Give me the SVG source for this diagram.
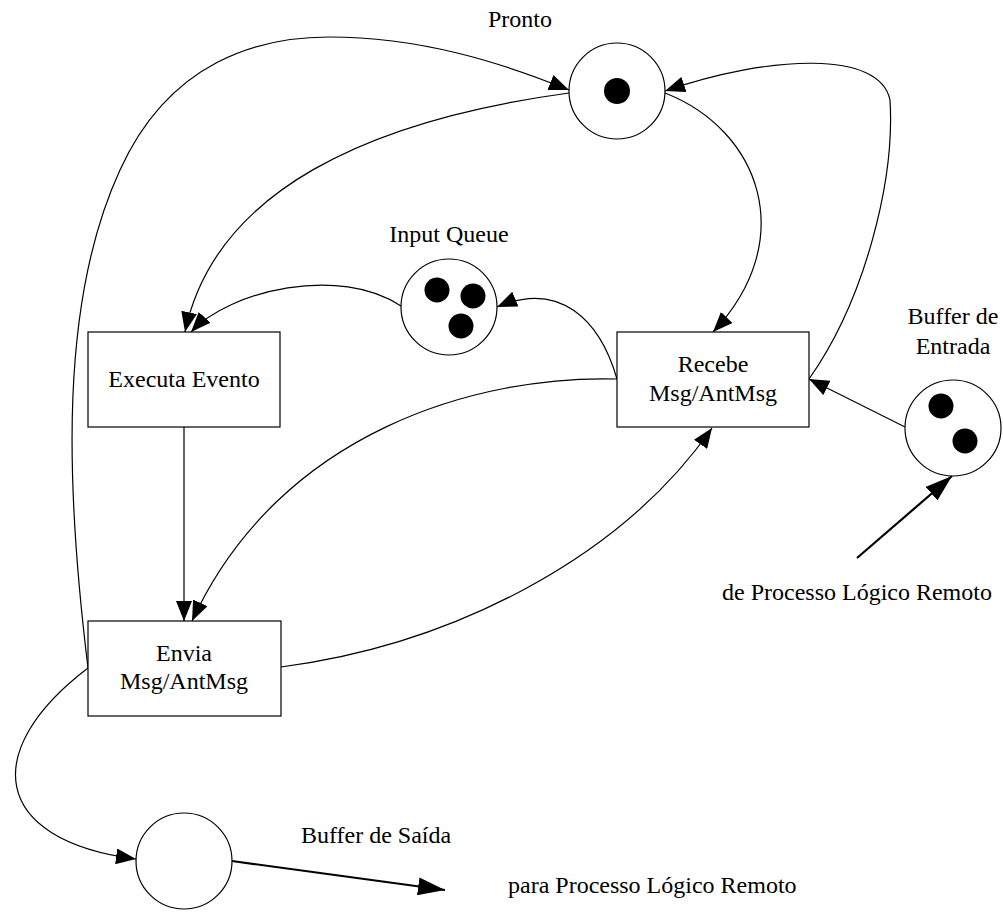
<svg xmlns="http://www.w3.org/2000/svg" width="1003" height="924" viewBox="0 0 1003 924">
  <style>
    .place { fill: #ffffff; stroke: #000000; stroke-width: 1.2; }
    .box { fill: #ffffff; stroke: #000000; stroke-width: 1.2; }
    .token { fill: #000000; stroke: none; }
    .lbl { font-family: "Liberation Serif", "Times New Roman", serif; font-size: 24px; fill: #000000; }
    .mid { text-anchor: middle; }
    .arc { fill: none; stroke: #000000; stroke-width: 1.2; }
    .ext { fill: none; stroke: #000000; stroke-width: 2.2; }
  </style>
  <defs>
    <marker id="head" markerUnits="userSpaceOnUse" markerWidth="20" markerHeight="16" refX="20" refY="8" orient="auto">
      <path d="M0,0 L20,8 L0,16 z" fill="#000000"/>
    </marker>
    <marker id="headBig" markerUnits="userSpaceOnUse" markerWidth="27" markerHeight="18" refX="27" refY="9" orient="auto">
      <path d="M0,0 L27,9 L0,18 z" fill="#000000"/>
    </marker>
  </defs>

  <!-- connectors -->
  <g id="connectors">
    <!-- Envia -> Pronto (outer loop) -->
    <path class="arc" marker-end="url(#head)" d="M88,668 C 65,480 60,300 120,170 C 170,60 260,37 329,37 C 420,37 500,62 569,90"/>
    <!-- Pronto -> Executa Evento -->
    <path class="arc" marker-end="url(#head)" d="M569,93 C 370,120 215,190 185,332"/>
    <!-- Input Queue -> Executa Evento -->
    <path class="arc" marker-end="url(#head)" d="M401,306 C 340,265 230,290 191,332"/>
    <!-- Pronto -> Recebe -->
    <path class="arc" marker-end="url(#head)" d="M665,93 C 760,130 800,240 713,332"/>
    <!-- Recebe -> Pronto -->
    <path class="arc" marker-end="url(#head)" d="M809,379 C 865,300 895,180 890,100 C 880,50 770,55 665,91"/>
    <!-- Recebe -> Input Queue -->
    <path class="arc" marker-end="url(#head)" d="M617,379 C 600,320 560,280 497,307"/>
    <!-- Recebe -> Envia -->
    <path class="arc" marker-end="url(#head)" d="M617,379 C 480,375 280,430 192,621"/>
    <!-- Executa Evento -> Envia -->
    <path class="arc" marker-end="url(#head)" d="M184,427 L184,621"/>
    <!-- Envia -> Recebe -->
    <path class="arc" marker-end="url(#head)" d="M281,667 C 450,645 620,560 712,428"/>
    <!-- Buffer de Entrada -> Recebe -->
    <path class="arc" marker-end="url(#head)" d="M905,427 L809,379"/>
    <!-- Envia -> Buffer de Saida -->
    <path class="arc" marker-end="url(#head)" d="M88,668 C -20,750 -10,840 136,859"/>
    <!-- Buffer de Saida -> remote process -->
    <path class="ext" marker-end="url(#headBig)" d="M232,861 L445,890"/>
    <!-- remote process -> Buffer de Entrada -->
    <path class="ext" marker-end="url(#headBig)" d="M857,558 L952,476"/>
  </g>

  <!-- places -->
  <g id="pronto">
    <circle class="place" cx="617" cy="91" r="48"/>
    <circle class="token" cx="617" cy="91" r="13"/>
    <text class="lbl mid" x="520" y="27">Pronto</text>
  </g>
  <g id="input-queue">
    <circle class="place" cx="449" cy="307" r="48"/>
    <circle class="token" cx="437" cy="290" r="12.5"/>
    <circle class="token" cx="473" cy="296" r="12.5"/>
    <circle class="token" cx="461" cy="326" r="12.5"/>
    <text class="lbl mid" x="449" y="242">Input Queue</text>
  </g>
  <g id="buffer-entrada">
    <circle class="place" cx="953" cy="428" r="48"/>
    <circle class="token" cx="941" cy="406" r="12.5"/>
    <circle class="token" cx="965" cy="441" r="12.5"/>
    <text class="lbl mid" x="953" y="324">Buffer de</text>
    <text class="lbl mid" x="953" y="354">Entrada</text>
  </g>
  <g id="buffer-saida">
    <circle class="place" cx="184" cy="861" r="48"/>
    <text class="lbl" x="301" y="843">Buffer de Saída</text>
  </g>

  <!-- transitions -->
  <g id="executa-evento">
    <rect class="box" x="88" y="332" width="192" height="95"/>
    <text class="lbl mid" x="184" y="387">Executa Evento</text>
  </g>
  <g id="recebe">
    <rect class="box" x="617" y="332" width="192" height="95"/>
    <text class="lbl mid" x="713" y="372">Recebe</text>
    <text class="lbl mid" x="713" y="401">Msg/AntMsg</text>
  </g>
  <g id="envia">
    <rect class="box" x="88" y="621" width="193" height="95"/>
    <text class="lbl mid" x="184" y="661">Envia</text>
    <text class="lbl mid" x="184" y="689">Msg/AntMsg</text>
  </g>

  <!-- remote process labels -->
  <g id="remote-labels">
    <text class="lbl" x="722" y="600">de Processo Lógico Remoto</text>
    <text class="lbl" x="508" y="893">para Processo Lógico Remoto</text>
  </g>
</svg>
